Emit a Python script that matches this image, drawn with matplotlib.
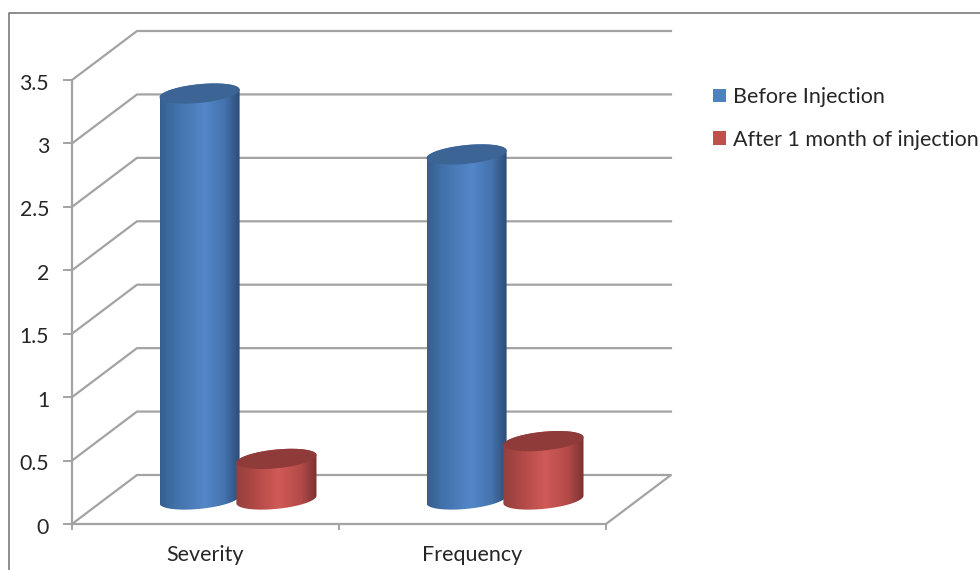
import numpy as np
import matplotlib
matplotlib.use("Agg")
import matplotlib.pyplot as plt
from matplotlib.colors import LinearSegmentedColormap
from matplotlib.lines import Line2D
from matplotlib.patches import Patch, Polygon
from matplotlib.transforms import ScaledTranslation

categories = ["Severity", "Frequency"]
before_values = [3.2, 2.72]
after_values = [0.32, 0.46]
series_names = ["Before Injection", "After 1 month of injection"]
y_ticks = [0, 0.5, 1, 1.5, 2, 2.5, 3, 3.5]
y_tick_labels = ["0", "0.5", "1", "1.5", "2", "2.5", "3", "3.5"]

plt.rcParams["font.family"] = ["Lato", "DejaVu Sans"]

W, H = 980, 570
GRID = "#a3a3a3"
TEXT = "#262626"

# 3d look: how far the back wall is shifted from the front plane, in data units
DEPTH_X = 65 / 267
DEPTH_Y = 49 / (444 / 3.5)
BAR_W = 0.15
BAR_OFFSET = 0.144
ELL_TILT = 0.03
ELL_B = 0.074

blue_cmap = LinearSegmentedColormap.from_list(
    "blue_cyl", [(0, "#34608f"), (0.2, "#4272ab"), (0.55, "#5487c9"),
                 (0.8, "#4473ad"), (1, "#2b4a73")])
red_cmap = LinearSegmentedColormap.from_list(
    "red_cyl", [(0, "#94403d"), (0.2, "#ad4744"), (0.52, "#d05a57"),
                (0.8, "#b44b48"), (1, "#7a3331")])


def ellipse(cx, cy, t):
    return np.column_stack([cx + BAR_W * np.cos(t),
                            cy + ELL_TILT * np.cos(t) + ELL_B * np.sin(t)])


def cylinder(ax, pos, value, cmap, top_color, z):
    cx = pos + DEPTH_X / 2
    base = DEPTH_Y / 2
    lower = ellipse(cx, base, np.linspace(np.pi, 2 * np.pi, 60))
    upper = ellipse(cx, base + value, np.linspace(0, np.pi, 60))
    body = Polygon(np.vstack([lower, upper]), closed=True, fc="none", ec="none",
                   transform=ax.transData)
    ax.add_patch(body)
    grad = np.linspace(0, 1, 256).reshape(1, -1)
    im = ax.imshow(grad, cmap=cmap, aspect="auto", zorder=z, interpolation="bilinear",
                   extent=[cx - BAR_W, cx + BAR_W, 0, base + value + 0.2])
    im.set_clip_path(body)
    top = ellipse(cx, base + value, np.linspace(0, 2 * np.pi, 120))
    ax.add_patch(Polygon(top, closed=True, fc=top_color, ec="none", zorder=z + 0.1))


fig = plt.figure(figsize=(W / 100, H / 100), dpi=100)
ax = fig.add_axes([72 / W, (H - 524) / H, 534 / W, 444 / H])

# chart frame, open on the right and at the bottom
fig.add_artist(Line2D([9 / W, 9 / W, 1], [0, (H - 13) / H, (H - 13) / H],
                      color="#7a7a7a", lw=1.2))

# side wall and back wall gridlines
for v in y_ticks[1:]:
    ax.plot([0, DEPTH_X, 2 + DEPTH_X], [v, v + DEPTH_Y, v + DEPTH_Y],
            color=GRID, lw=1.6, clip_on=False, zorder=1)
ax.plot([0, DEPTH_X, 2 + DEPTH_X, 2], [0, DEPTH_Y, DEPTH_Y, 0],
        color=GRID, lw=1.6, clip_on=False, zorder=1)

for i in range(len(categories)):
    center = i + 0.5
    cylinder(ax, center - BAR_OFFSET, before_values[i], blue_cmap, "#3c6595", 3 + i)
    cylinder(ax, center + BAR_OFFSET, after_values[i], red_cmap, "#8f3b39", 3.5 + i)

ax.set_xlim(0, 2)
ax.set_ylim(0, 3.5)
for side in ["top", "right"]:
    ax.spines[side].set_visible(False)
for side in ["left", "bottom"]:
    ax.spines[side].set_color(GRID)
    ax.spines[side].set_linewidth(1.6)
ax.patch.set_alpha(0)

ax.set_yticks(y_ticks)
ax.set_yticklabels(y_tick_labels, fontsize=15.3, color=TEXT)
ax.tick_params(axis="y", length=6.5, width=1.4, color=GRID, pad=10)
# the value labels sit a little below their ticks
for label in ax.get_yticklabels():
    label.set_transform(label.get_transform() + ScaledTranslation(0, -1.5 / 100, fig.dpi_scale_trans))
ax.set_xticks([0, 1, 2])
ax.set_xticklabels([])
ax.tick_params(axis="x", which="major", length=4.5, width=1.4, color=GRID)
ax.set_xticks([0.5, 1.5], minor=True)
ax.set_xticklabels(categories, minor=True, fontsize=15.5, color=TEXT)
ax.tick_params(axis="x", which="minor", length=0, pad=15)

handles = [Patch(fc="#4f81bd", ec="none"), Patch(fc="#c0504d", ec="none")]
fig.legend(handles, series_names, loc="upper left",
           bbox_to_anchor=(713 / W, (H - 87) / H), frameon=False, fontsize=15.5,
           labelcolor=TEXT, handlelength=0.6, handleheight=0.6, handletextpad=0.33,
           labelspacing=1.05, borderpad=0, borderaxespad=0)

fig.savefig("out.png", dpi=100)
